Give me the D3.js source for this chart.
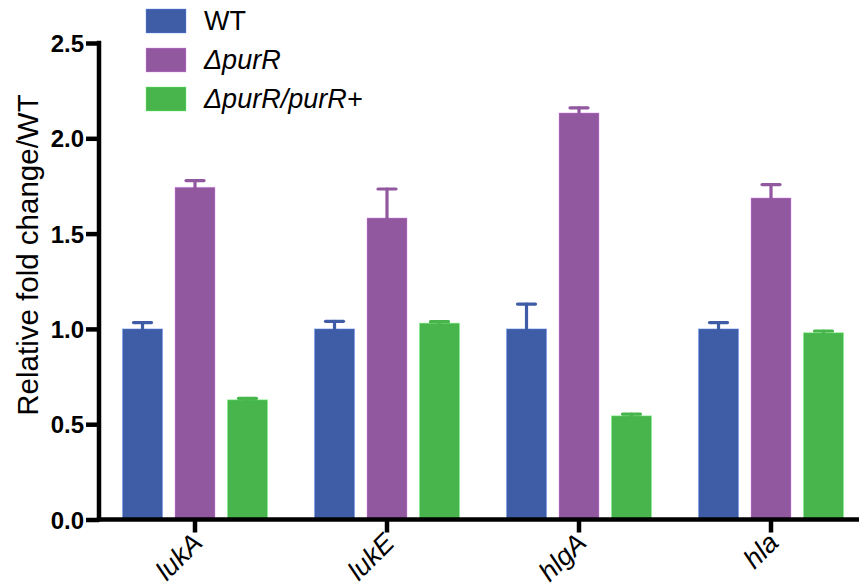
<!DOCTYPE html>
<html>
<head>
<meta charset="utf-8">
<script src="https://cdn.jsdelivr.net/npm/d3@7"></script>
<style>
  body { margin: 0; background: #fff; }
  svg { display: block; font-family: "Liberation Sans", Arial, Helvetica, sans-serif; }
</style>
</head>
<body>
<svg width="859" height="586"></svg>
<script>
// Data
var genes = ["lukA", "lukE", "hlgA", "hla"];
var seriesNames = ["WT", "\u0394purR", "\u0394purR/purR+"];
var wtValues = [1.0, 1.0, 1.0, 1.0];
var wtErrors = [0.033, 0.04, 0.13, 0.033];
var purRValues = [1.743, 1.582, 2.133, 1.687];
var purRErrors = [0.035, 0.152, 0.027, 0.07];
var compValues = [0.628, 1.03, 0.544, 0.98];
var compErrors = [0.008, 0.008, 0.009, 0.009];
var colors = ["#3f5ca6", "#91589f", "#47b54c"];
var yTicks = [0, 0.5, 1.0, 1.5, 2.0, 2.5];

var table = [];
genes.forEach(function (g, i) {
  table.push({ gene: g, s: 0, value: wtValues[i], err: wtErrors[i] });
  table.push({ gene: g, s: 1, value: purRValues[i], err: purRErrors[i] });
  table.push({ gene: g, s: 2, value: compValues[i], err: compErrors[i] });
});

var svg = d3.select("svg");

// scales
var y = d3.scaleLinear().domain([0, 2.5]).range([519.5, 43]);
var x0 = d3.scaleBand().domain(genes).range([99, 867])
  .paddingInner(0.245).paddingOuter(0.1225);
var x1 = d3.scaleBand().domain([0, 1, 2]).range([0, x0.bandwidth()])
  .paddingInner(0.238);

// bars
svg.append("g")
  .selectAll("rect")
  .data(table)
  .enter().append("rect")
  .attr("x", function (d) { return x0(d.gene) + x1(d.s); })
  .attr("y", function (d) { return y(d.value); })
  .attr("width", x1.bandwidth())
  .attr("height", function (d) { return y(0) - y(d.value); })
  .attr("fill", function (d) { return colors[d.s]; })
  .attr("stroke", function (d) { return d3.color(colors[d.s]).brighter(1.3); })
  .attr("stroke-opacity", 0.4)
  .attr("stroke-width", 1);

// error bars (upper only)
var eb = svg.append("g")
  .selectAll("g")
  .data(table)
  .enter().append("g")
  .attr("stroke", function (d) { return colors[d.s]; })
  .attr("stroke-width", 3.2)
  .attr("stroke-linecap", "round");

eb.append("line")
  .attr("x1", function (d) { return x0(d.gene) + x1(d.s) + x1.bandwidth() / 2; })
  .attr("x2", function (d) { return x0(d.gene) + x1(d.s) + x1.bandwidth() / 2; })
  .attr("y1", function (d) { return y(d.value); })
  .attr("y2", function (d) { return y(d.value + d.err); });

eb.append("line")
  .attr("x1", function (d) { return x0(d.gene) + x1(d.s) + x1.bandwidth() / 2 - 9; })
  .attr("x2", function (d) { return x0(d.gene) + x1(d.s) + x1.bandwidth() / 2 + 9; })
  .attr("y1", function (d) { return y(d.value + d.err); })
  .attr("y2", function (d) { return y(d.value + d.err); });

// y axis
var yAxis = svg.append("g")
  .attr("transform", "translate(99,0)")
  .call(d3.axisLeft(y).tickValues(yTicks).tickFormat(d3.format(".1f"))
    .tickSize(13).tickSizeOuter(0).tickPadding(2));
yAxis.select(".domain").attr("stroke-width", 4.5).attr("stroke", "#000")
  .attr("d", "M0," + (y(0) + 2) + "V" + (y(2.5) - 2.2));
yAxis.selectAll(".tick line").attr("stroke-width", 4.5).attr("stroke", "#000");
yAxis.selectAll(".tick text")
  .attr("fill", "#000")
  .style("font-size", "24px")
  .style("font-weight", "bold")
  .attr("dy", "0.36em");

// x axis
var xAxis = svg.append("g")
  .attr("transform", "translate(0," + y(0) + ")")
  .call(d3.axisBottom(x0).tickSize(13).tickSizeOuter(0));
xAxis.select(".domain").attr("stroke-width", 4.5).attr("stroke", "#000")
  .attr("d", "M96.75,0H867");
xAxis.selectAll(".tick line").attr("stroke-width", 4.5).attr("stroke", "#000");
xAxis.selectAll(".tick text")
  .attr("fill", "#000")
  .style("font-size", "27px")
  .style("font-style", "italic")
  .attr("text-anchor", "end")
  .attr("y", 0).attr("dy", 0)
  .attr("transform", "translate(9,25) rotate(-45)");

// y axis title
svg.append("text")
  .attr("transform", "translate(38,255) rotate(-90)")
  .attr("text-anchor", "middle")
  .style("font-size", "29.5px")
  .text("Relative fold change/WT");

// legend
var legend = svg.append("g")
  .selectAll("g")
  .data(seriesNames)
  .enter().append("g")
  .attr("transform", function (d, i) { return "translate(146," + (9 + i * 39) + ")"; });

legend.append("rect")
  .attr("width", 40)
  .attr("height", 24)
  .attr("fill", function (d, i) { return colors[i]; })
  .attr("stroke", function (d, i) { return d3.color(colors[i]).brighter(1.3); })
  .attr("stroke-opacity", 0.4);

legend.append("text")
  .attr("x", 58)
  .attr("y", 21)
  .style("font-size", "27px")
  .style("font-style", function (d, i) { return i === 0 ? "normal" : "italic"; })
  .text(function (d) { return d; });
</script>
</body>
</html>
